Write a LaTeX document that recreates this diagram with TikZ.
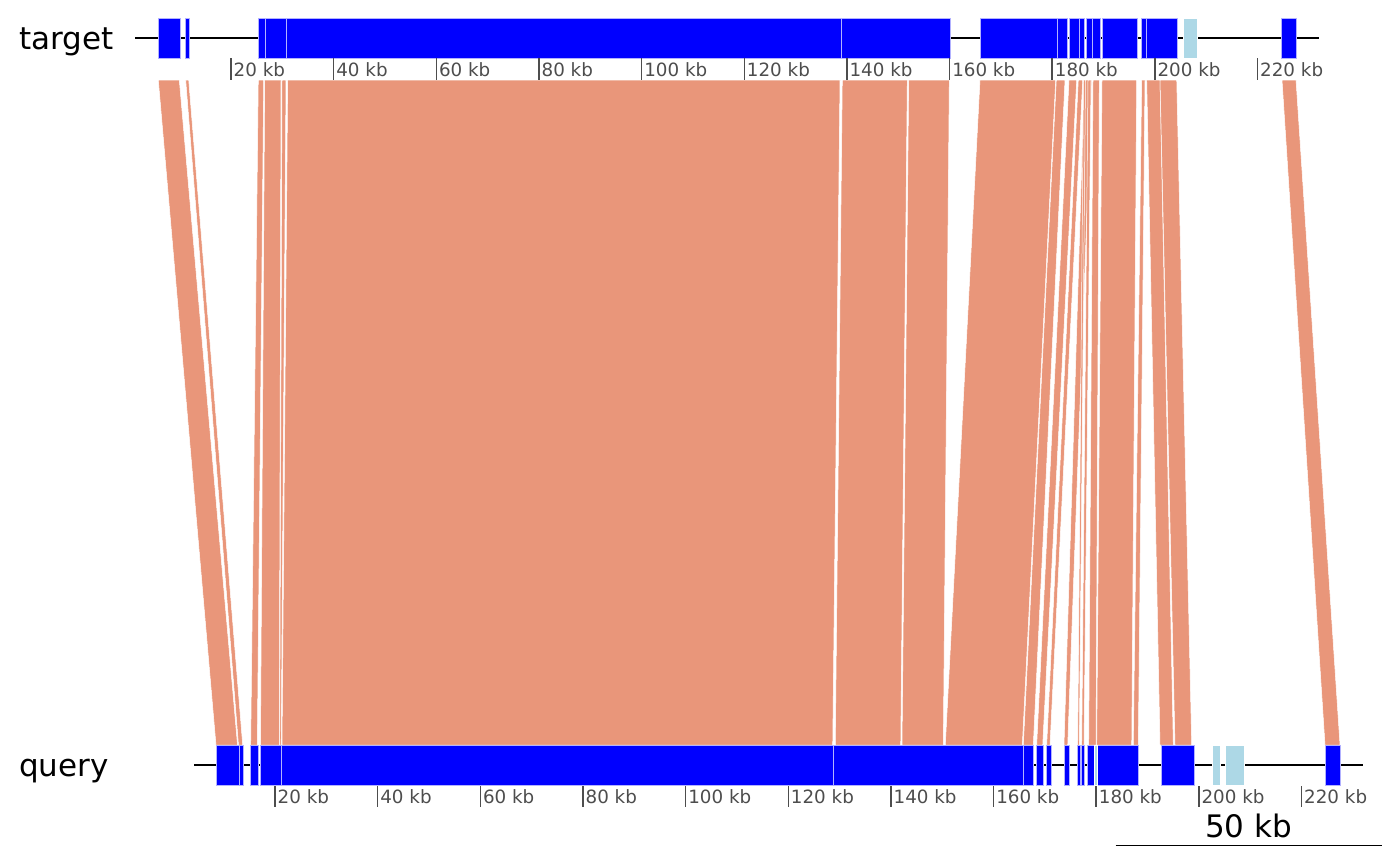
\documentclass[tikz,border=0pt]{standalone}
\usepackage{fontspec}
\setmainfont{DejaVu Sans}
\definecolor{linkc}{HTML}{E9967A}
\definecolor{genec}{HTML}{0000FF}
\definecolor{lbc}{HTML}{ADD8E6}
\definecolor{tickc}{HTML}{4D4D4D}
\begin{document}
\begin{tikzpicture}[x=1pt,y=-1pt,
  link/.style={fill=linkc,draw=white,line width=0.5pt},
  gene/.style={fill=genec,draw=white!70!blue,line width=0.35pt},
  lgene/.style={fill=lbc,draw=white,line width=0.35pt},
  backbone/.style={line width=1.8pt,black},
  tickmark/.style={tickc,line width=1.5pt},
  ticklab/.style={anchor=base west,text=tickc,font=\fontsize{18.3}{18.3}\selectfont,inner sep=0pt},
  tracklab/.style={anchor=base west,font=\fontsize{31}{31}\selectfont,inner sep=0pt}]
\useasboundingbox (0,0) rectangle (1400,865);

% links
\foreach \a/\b/\c/\d in {
  158.3/179.3/216/237.5,
  185.7/188.7/238.5/242.7,
  258.3/263.7/250.7/257.3,
  264.7/281/260.5/279.3,
  282/286/279.7/281.2,
  287.7/840/282/832.7,
  842.3/907.3/835.3/900.7,
  908.7/949.3/902/943.3,
  980/1055.7/945.3/1022.3,
  1056.3/1065/1023.3/1033.3,
  1069/1076.7/1036.7/1042.7,
  1078.3/1082.7/1046.7/1050,
  1084.3/1091.7/1064/1067.7,
  1083.5/1085.5/1077.7/1079.3,
  1088/1091/1081.7/1084,
  1093/1099.3/1088.7/1096,
  1102/1136.7/1096.7/1131.7,
  1141.7/1145/1133.3/1138.3,
  1146.7/1160/1160/1173.3,
  1160/1176.7/1175/1191.7,
  1282/1296/1325/1340}
  \draw[link] (\a,80) -- (\b,80) -- (\d,745) -- (\c,745) -- cycle;

% backbones
\draw[backbone] (135,38) -- (1318.7,38);
\draw[backbone] (194,765) -- (1362.7,765);

% target genes
\foreach \a/\b in {158/180,185/189,258/265,265/286.5,286.5/841,841/950,
  980/1057,1057/1067,1068.7/1078.7,1078.7/1083.7,1086/1091.7,1091.7/1100,
  1101.7/1137.3,1141/1145.7,1145.7/1177.3,1281/1296}
  \fill[gene] (\a,18) rectangle (\b,58);
\fill[lgene] (1182.7,18) rectangle (1196.7,58);

% query genes
\foreach \a/\b in {216/238.7,238.7/243.3,250.3/258.3,260/280.7,280.7/833.3,
  833.3/1022.7,1022.7/1033.3,1036/1043.3,1045.7/1051,1063.7/1068.7,
  1076.7/1080.3,1080.7/1084.5,1087.5/1094,1097.3/1138.3,1161.5/1194,1325/1340}
  \fill[gene] (\a,745) rectangle (\b,785);
\foreach \a/\b in {1094/1097.3,1212.3/1220,1225/1244}
  \fill[lgene] (\a,745) rectangle (\b,785);

% ticks
\foreach \i in {1,...,11}{
  \pgfmathsetmacro\tx{231+(\i-1)*102.65}
  \pgfmathsetmacro\qx{275+(\i-1)*102.65}
  \pgfmathtruncatemacro\kb{20*\i}
  \draw[tickmark] (\tx,58) -- (\tx,80);
  \node[ticklab] (tl\i) at (\tx+2.5,76) {\kb\ kb};
  \draw[tickmark] (\qx,786) -- (\qx,807);
  \node[ticklab] (ql\i) at (\qx+2.5,803) {\kb\ kb};
}

% track labels
\node[tracklab] (tgt) at (19,49) {target};
\node[tracklab] (qry) at (19,776) {query};

% scale bar
\draw[line width=1.5pt] (1115.7,845.5) -- (1381.7,845.5);
\node[anchor=base,font=\fontsize{31}{31}\selectfont,inner sep=0pt] (sb) at (1248.5,837) {50 kb};
\end{tikzpicture}
\end{document}
